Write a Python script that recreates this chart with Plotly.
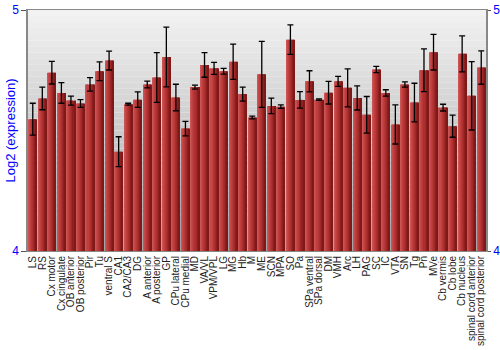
import plotly.graph_objects as go

categories = ["LS", "RS", "Cx motor", "Cx cingulate", "OB anterior", "OB posterior", "Pir", "Tu",
              "ventral S", "CA1", "CA2/CA3", "DG", "A anterior", "A posterior", "GP", "CPu lateral",
              "CPu medial", "MD", "VA/VL", "VPM/VPL", "LG", "MG", "Hb", "M", "ME", "SCN", "MPA",
              "SO", "Pa", "SPa ventral", "SPa dorsal", "DM", "VMH", "Arc", "LH", "PAG", "SC", "IC",
              "VTA", "SN", "Tg", "Pn", "MVe", "Cb vermis", "Cb lobe", "Cb nucleus",
              "spinal cord anterior", "spinal cord posterior"]
values = [4.547, 4.633, 4.740, 4.656, 4.624, 4.612, 4.691, 4.746,
          4.790, 4.412, 4.609, 4.628, 4.691, 4.720, 4.805, 4.637,
          4.508, 4.680, 4.772, 4.758, 4.746, 4.785, 4.651, 4.554, 4.733, 4.602, 4.599,
          4.877, 4.627, 4.704, 4.628, 4.657, 4.704, 4.677, 4.635, 4.565, 4.753, 4.656,
          4.525, 4.691, 4.616, 4.750, 4.825, 4.595, 4.518, 4.818,
          4.644, 4.761]
errors = [0.066, 0.047, 0.047, 0.043, 0.019, 0.016, 0.028, 0.039,
          0.039, 0.062, 0.004, 0.032, 0.014, 0.103, 0.124, 0.055,
          0.030, 0.008, 0.051, 0.025, 0.012, 0.073, 0.029, 0.006, 0.137, 0.032, 0.007,
          0.061, 0.034, 0.044, 0.003, 0.047, 0.021, 0.079, 0.050, 0.076, 0.013, 0.013,
          0.081, 0.011, 0.080, 0.089, 0.074, 0.014, 0.046, 0.075,
          0.142, 0.069]
y_range = [4, 5]
y_ticks = [4, 5]
y_title = "Log2 (expression)"

fig = go.Figure()

# bar slices to imitate horizontal gradient
def lerp(c1, c2, t):
    return "rgb(%d,%d,%d)" % tuple(round(a + (b - a) * t) for a, b in zip(c1, c2))

stops = [(0.0, (205, 90, 90)), (0.25, (196, 66, 66)), (0.6, (170, 45, 45)), (1.0, (120, 20, 20))]
def grad(t):
    for (t0, c0), (t1, c1) in zip(stops, stops[1:]):
        if t <= t1:
            return lerp(c0, c1, (t - t0) / (t1 - t0))
    return lerp(stops[-1][1], stops[-1][1], 0)

n = 8
bw = 0.86
sw = bw / n
bases = [y_range[0]] * len(values)
heights = [v - y_range[0] for v in values]
for i in range(n):
    fig.add_trace(go.Bar(
        x=categories, y=heights, base=bases, width=sw * 1.05, offset=-bw / 2 + i * sw,
        marker=dict(color=grad((i + 0.5) / n), line=dict(width=0)),
        hoverinfo="skip", showlegend=False))

fig.add_trace(go.Scatter(
    x=categories, y=values, mode="markers", marker=dict(size=1, color="rgba(0,0,0,0)"),
    error_y=dict(type="data", array=errors, color="black", thickness=1.3, width=3),
    showlegend=False, hoverinfo="skip"))

fig.add_trace(go.Scatter(x=[categories[0]], y=[4.5], yaxis="y2", mode="markers",
                         marker=dict(size=1, color="rgba(0,0,0,0)"), showlegend=False,
                         hoverinfo="skip"))

# vertical background gradient
shapes = []
m = 40
for k in range(m):
    t = k / (m - 1)
    g = round(242 - (242 - 165) * t)
    shapes.append(dict(type="rect", xref="paper", yref="paper", x0=0, x1=1,
                       y1=1 - k / m, y0=1 - (k + 1) / m, fillcolor="rgb(%d,%d,%d)" % (g, g, g),
                       line=dict(width=0), layer="below"))

fig.add_annotation(text=y_title, xref="paper", yref="paper", x=0, y=0.5, xanchor="center",
                   yanchor="middle", xshift=-18, textangle=-90, showarrow=False,
                   font=dict(size=13, color="blue"))

fig.update_layout(
    width=500, height=350, margin=dict(l=28, r=14, t=10, b=99),
    paper_bgcolor="white", plot_bgcolor="white", barmode="overlay", shapes=shapes,
    font=dict(family="Liberation Sans, Arial, sans-serif", size=10, color="black"),
    xaxis=dict(tickangle=-90, tickfont=dict(size=10, color="#222"), showgrid=False,
               tickmode="array", tickvals=categories, ticktext=categories,
               showline=True, linecolor="#888", linewidth=1, mirror=True, ticks="",
               range=[-0.5, len(categories) - 0.5], automargin=False),
    yaxis=dict(range=y_range, tickvals=y_ticks, tickfont=dict(size=12, color="blue"),
               showgrid=False, showline=True, linecolor="#888", linewidth=1.5,
               ticks="outside", ticklen=5, tickcolor="#555", automargin=False,
               zeroline=False),
    yaxis2=dict(range=y_range, tickvals=y_ticks, overlaying="y", side="right",
                tickfont=dict(size=12, color="blue"), showgrid=False, showline=True,
                linecolor="#888", linewidth=1.5, ticks="outside", ticklen=3, tickcolor="#555",
                zeroline=False, automargin=False),
)

fig.write_html("out.html", config={"displayModeBar": False},
               post_script="document.body.style.margin='0';")
